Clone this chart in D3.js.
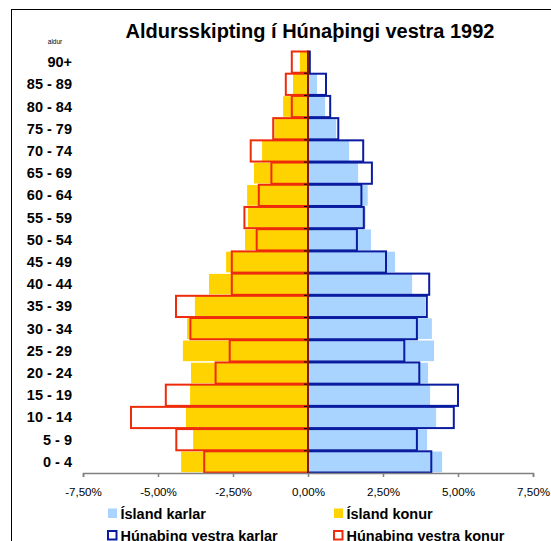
<!DOCTYPE html>
<html>
<head>
<meta charset="utf-8">
<script src="https://cdn.jsdelivr.net/npm/d3@7"></script>
<style>
  body { margin: 0; background: #fff; }
  svg { display: block; font-family: "Liberation Sans", Arial, sans-serif; }
</style>
</head>
<body>
<div id="chart"></div>
<script>
// age groups, bottom to top
const categories = ["0 - 4", "5 - 9", "10 - 14", "15 - 19", "20 - 24", "25 - 29", "30 - 34", "35 - 39",
  "40 - 44", "45 - 49", "50 - 54", "55 - 59", "60 - 64", "65 - 69", "70 - 74", "75 - 79", "80 - 84", "85 - 89", "90+"]

// percent of total population
const islandKarlar = [4.47, 3.97, 4.27, 4.07, 4.0, 4.2, 4.13, 3.9, 3.47, 2.9, 2.1, 1.92, 1.99, 1.67, 1.37, 0.94, 0.57, 0.3, 0.08]
const islandKonur = [4.23, 3.83, 4.07, 3.93, 3.9, 4.17, 4.03, 3.77, 3.3, 2.73, 2.1, 2.0, 2.03, 1.8, 1.53, 1.12, 0.83, 0.5, 0.27]
const hunKarlar = [4.11, 3.63, 4.86, 5.0, 3.71, 3.21, 3.63, 3.96, 4.04, 2.6, 1.63, 1.86, 1.78, 2.13, 1.84, 1.01, 0.74, 0.6, 0.06]
const hunKonur = [3.46, 4.39, 5.9, 4.74, 3.08, 2.61, 3.92, 4.4, 2.54, 2.54, 1.71, 2.12, 1.64, 1.22, 1.91, 1.16, 0.54, 0.74, 0.54]

const xTicks = [-7.5, -5, -2.5, 0, 2.5, 5, 7.5]
const legendItems = ["Ísland karlar", "Ísland konur", "Húnaþing vestra karlar", "Húnaþing vestra konur"]

const w = 551
const h = 541

const colors = {
  isKarl: "#a9d4ff",
  isKona: "#ffd300",
  hunKarl: "#0a1ca0",
  hunKona: "#ee2c0c",
  zero: "#7f1a00"
}

const svg = d3.select("#chart").append("svg").attr("width", w).attr("height", h)

// outer chart border (runs past the window on right/bottom)
svg.append("rect")
  .attr("x", 11.5).attr("y", 9.5)
  .attr("width", 700).attr("height", 700)
  .attr("fill", "none").attr("stroke", "#000").attr("stroke-width", 1)

const x = d3.scaleLinear().domain([-7.5, 7.5]).range([83, 533])
const yFill = d3.scaleBand().domain(categories).range([473, 51]).paddingInner(0.07).paddingOuter(0.035)
const yLine = d3.scaleBand().domain(categories).range([473, 51])

const locale = d3.formatLocale({ decimal: ",", thousands: ".", grouping: [3], currency: ["", ""], minus: "-" })
const pct = locale.format(".2%")

// title
svg.append("text")
  .attr("x", 310).attr("y", 38)
  .attr("text-anchor", "middle")
  .attr("font-size", 20).attr("font-weight", "bold")
  .text("Aldursskipting í Húnaþingi vestra 1992")

svg.append("text")
  .attr("x", 55).attr("y", 44)
  .attr("text-anchor", "middle")
  .attr("font-size", 6.5)
  .text("aldur")

// Ísland bars (filled)
svg.append("g").selectAll("rect")
  .data(islandKarlar)
  .enter().append("rect")
  .attr("x", x(0))
  .attr("y", (d, i) => yFill(categories[i]))
  .attr("width", d => x(d) - x(0))
  .attr("height", yFill.bandwidth())
  .attr("fill", colors.isKarl)

svg.append("g").selectAll("rect")
  .data(islandKonur)
  .enter().append("rect")
  .attr("x", d => x(-d))
  .attr("y", (d, i) => yFill(categories[i]))
  .attr("width", d => x(0) - x(-d))
  .attr("height", yFill.bandwidth())
  .attr("fill", colors.isKona)

// Húnaþing vestra bars (outlined)
svg.append("g").selectAll("rect")
  .data(hunKarlar)
  .enter().append("rect")
  .attr("x", x(0))
  .attr("y", (d, i) => yLine(categories[i]) + 0.5)
  .attr("width", d => x(d) - x(0))
  .attr("height", yLine.bandwidth() - 1)
  .attr("fill", "none")
  .attr("stroke", colors.hunKarl)
  .attr("stroke-width", 2)

svg.append("g").selectAll("rect")
  .data(hunKonur)
  .enter().append("rect")
  .attr("x", d => x(-d))
  .attr("y", (d, i) => yLine(categories[i]) + 0.5)
  .attr("width", d => x(0) - x(-d))
  .attr("height", yLine.bandwidth() - 1)
  .attr("fill", "none")
  .attr("stroke", colors.hunKona)
  .attr("stroke-width", 2)

// x axis
const xAxis = d3.axisBottom(x).tickValues(xTicks).tickSize(4).tickFormat(d => pct(d / 100))
const gx = svg.append("g").attr("transform", "translate(0,473)").call(xAxis)
gx.select(".domain").attr("stroke", "#808080").attr("stroke-width", 1.5)
gx.selectAll(".tick line").attr("stroke", "#808080").attr("stroke-width", 1.5)
gx.selectAll(".tick text")
  .attr("y", 15)
  .attr("font-family", "'Liberation Sans', Arial, sans-serif")
  .attr("font-size", 11.6)
  .attr("fill", "#000")

// category axis at zero
const gy = svg.append("g").attr("transform", "translate(" + x(0) + ",0)")
gy.selectAll("line.tk")
  .data(categories.slice(1))
  .enter().append("line")
  .attr("class", "tk")
  .attr("x1", -4).attr("x2", 0)
  .attr("y1", d => yLine(d) + yLine.bandwidth())
  .attr("y2", d => yLine(d) + yLine.bandwidth())
  .attr("stroke", "#000").attr("stroke-width", 1)
gy.append("line")
  .attr("x1", 0).attr("x2", 0)
  .attr("y1", 51).attr("y2", 473)
  .attr("stroke", colors.zero).attr("stroke-width", 2)

// age labels
svg.append("g").selectAll("text")
  .data(categories)
  .enter().append("text")
  .attr("x", 72)
  .attr("y", d => yLine(d) + yLine.bandwidth() / 2 + 5)
  .attr("text-anchor", "end")
  .attr("font-size", 14.5).attr("font-weight", "bold")
  .text(d => d)

// legend
const legendPos = [[108, 519], [334, 519], [108, 541], [334, 541]]
const legend = svg.append("g")
legendItems.forEach((name, i) => {
  const [lx, ly] = legendPos[i]
  if (i < 2) {
    legend.append("rect")
      .attr("x", lx).attr("y", ly - 10.5)
      .attr("width", 9).attr("height", 9.5)
      .attr("fill", i === 0 ? colors.isKarl : colors.isKona)
  } else {
    legend.append("rect")
      .attr("x", lx).attr("y", ly - 10)
      .attr("width", 8.5).attr("height", 8.5)
      .attr("fill", "none")
      .attr("stroke", i === 2 ? colors.hunKarl : colors.hunKona)
      .attr("stroke-width", 2)
  }
  legend.append("text")
    .attr("x", lx + 12.5).attr("y", ly)
    .attr("font-size", 14.5).attr("font-weight", "bold")
    .text(name)
})
</script>
</body>
</html>
